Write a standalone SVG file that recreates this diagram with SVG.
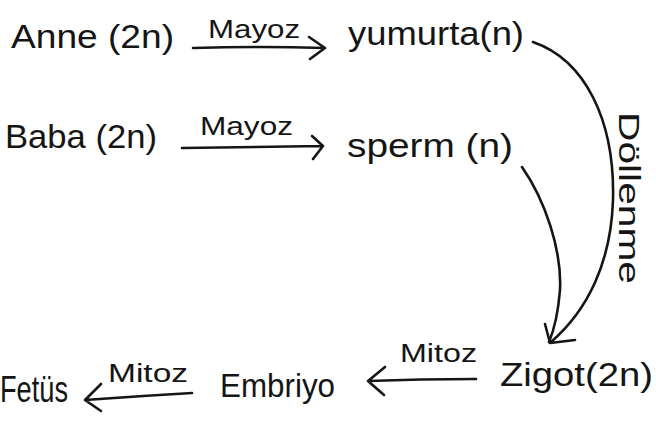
<svg xmlns="http://www.w3.org/2000/svg" width="656" height="423" viewBox="0 0 656 423">
<style>
text{font-family:"Liberation Sans","DejaVu Sans",sans-serif;fill:#151515}
.n{font-size:34px}
.l{font-size:26px}
.c{fill:none;stroke:#151515;stroke-width:2.6;stroke-linecap:round;stroke-linejoin:round}
</style>
<rect width="656" height="423" fill="#ffffff"/>
<g id="anne"><text class="n" x="11" y="48" textLength="163" lengthAdjust="spacingAndGlyphs">Anne (2n)</text></g>
<g id="yumurta"><text class="n" x="348" y="45" textLength="176" lengthAdjust="spacingAndGlyphs">yumurta(n)</text></g>
<g id="baba"><text class="n" x="5" y="148" textLength="152" lengthAdjust="spacingAndGlyphs">Baba (2n)</text></g>
<g id="sperm"><text class="n" x="347" y="157" textLength="166" lengthAdjust="spacingAndGlyphs">sperm (n)</text></g>
<g id="zigot"><text class="n" x="500" y="386" textLength="153" lengthAdjust="spacingAndGlyphs">Zigot(2n)</text></g>
<g id="embriyo"><text class="n" x="220" y="397" textLength="115" lengthAdjust="spacingAndGlyphs">Embriyo</text></g>
<g id="fetus"><text x="0" y="402" textLength="68" lengthAdjust="spacingAndGlyphs" style="font-size:36px">Fetüs</text></g>
<g id="connectors">
<path class="c" d="M193,48 Q260,46 325,48 M309,37 L325,48 L310,59"/>
<text class="l" x="208" y="38" textLength="92" lengthAdjust="spacingAndGlyphs">Mayoz</text>
<path class="c" d="M182,148 Q250,147 323,146 M312,136 L323,146 L313,159"/>
<text class="l" x="200" y="135" textLength="93" lengthAdjust="spacingAndGlyphs">Mayoz</text>
<path class="c" d="M533,42 C585,60 615,120 613,200 C611,262 588,310 551,342 M545,324 L550,343 L575,340"/>
<text class="l" transform="translate(619,112) rotate(90)" textLength="172" lengthAdjust="spacingAndGlyphs" style="font-size:30px">Döllenme</text>
<path class="c" d="M522,167 C545,200 562,250 560,290 C558,315 554,330 549,342"/>
<path class="c" d="M476,379 Q420,379 368,381 M385,367 L368,381 L384,395"/>
<text class="l" x="400" y="362" textLength="77" lengthAdjust="spacingAndGlyphs">Mitoz</text>
<path class="c" d="M192,393 Q140,396 85,400 M101,384 L85,400 L101,411"/>
<text class="l" x="108" y="382" textLength="80" lengthAdjust="spacingAndGlyphs">Mitoz</text>
</g>
</svg>
